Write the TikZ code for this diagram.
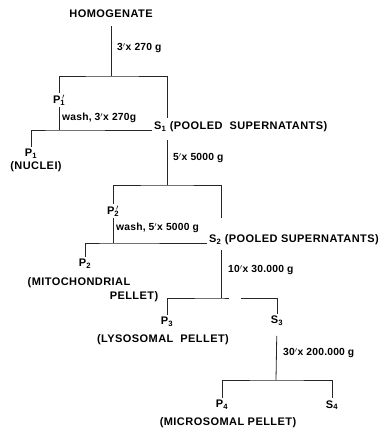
\documentclass[tikz,border=0pt]{standalone}
\usepackage{fontspec}
\setmainfont{Liberation Sans}
\usetikzlibrary{positioning}

\newcommand{\pelt}[1]{P\textsubscript{#1}}
\newcommand{\supn}[1]{S\textsubscript{#1}}
\newcommand{\washed}[1]{P\rlap{\textsubscript{#1}}\,$'$}

\begin{document}
\begin{tikzpicture}[
x=1pt, y=-1pt,
frac/.style={inner sep=2pt, align=center, font=\fontsize{11}{13}\selectfont\bfseries\addfontfeature{LetterSpace=4}},
spin/.style={inner sep=1pt, anchor=west, font=\fontsize{10.3}{13}\selectfont\bfseries\addfontfeature{LetterSpace=2}},
link/.style={line width=0.8pt, black!85}
]
\useasboundingbox (0,0) rectangle (390,428);

% first spin
\node[frac] (hom) at (111,14) {HOMOGENATE};
\coordinate (j1) at (111,76);
\node[frac] (p1p) at (59,100) {\washed{1}};
\node[frac, anchor=west] (s1) at (152,127) {\supn{1} (POOLED\ \ SUPERNATANTS)};
\coordinate (s1in) at (167,118);
\draw[link, shorten <=6pt] (hom) -- (j1);
\draw[link] (p1p) |- (j1) -| (s1in);
\node[spin] at (116,48) {3$'$x 270 g};

% wash of P1'
\coordinate (j2) at (59,130);
\node[frac] (p1) at (31,154) {\pelt{1}};
\node[frac] at (36,167) {(NUCLEI)};
\draw[link] (p1p) -- (j2);
\draw[link] (p1) |- (j2) -- (j2 -| s1.west);
\node[spin] at (61,118) {wash, 3$'$x 270g};

% second spin
\coordinate (j3) at (167,185);
\node[frac] (p2p) at (113,211) {\washed{2}};
\node[frac, anchor=west] (s2) at (207,240) {\supn{2} (POOLED SUPERNATANTS)};
\coordinate (s2in) at (221,218);
\draw[link, shorten <=6pt] (s1.south -| j3) -- (j3);
\draw[link] (p2p) |- (j3) -| (s2in);
\node[spin] at (172,158) {5$'$x 5000 g};

% wash of P2'
\coordinate (j4) at (113,243);
\node[frac] (p2) at (85,264) {\pelt{2}};
\node[frac] at (79,283) {(MITOCHONDRIAL};
\node[frac] at (134,297) {PELLET)};
\draw[link] (p2p) -- (j4);
\draw[link] (p2) |- (j4) -- (j4 -| s2.west);
\node[spin] at (115,228) {wash, 5$'$x 5000 g};

% third spin
\coordinate (j5) at (221,298);
\coordinate (g1) at (229,298);
\coordinate (g2) at (241,298);
\node[frac] (p3) at (167,322) {\pelt{3}};
\node[frac] (s3) at (277,321) {\supn{3}};
\node[frac] at (163,340) {(LYSOSOMAL\ \ PELLET)};
\draw[link, shorten <=3pt] (s2.south -| j5) -- (j5);
\draw[link] (p3) |- (j5) -- (g1);
\draw[link] (g2) -| (s3);
\node[spin] at (227,270) {10$'$x 30.000 g};

% fourth spin
\coordinate (j6) at (276,380);
\node[frac] (p4) at (222,405) {\pelt{4}};
\node[frac] (s4) at (332,405) {\supn{4}};
\node[frac] at (228,423) {(MICROSOMAL PELLET)};
\draw[link, shorten <=8pt] (s3) -- (j6);
\draw[link] (p4) |- (j6) -| (s4);
\node[spin] at (282,353) {30$'$x 200.000 g};
\end{tikzpicture}
\end{document}
